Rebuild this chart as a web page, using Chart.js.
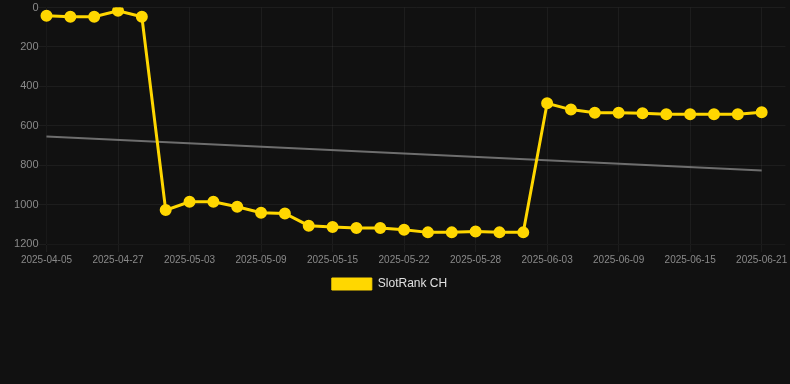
<!DOCTYPE html>
<html>
<head>
<meta charset="utf-8">
<script src="https://cdn.jsdelivr.net/npm/chart.js@4.4.0/dist/chart.umd.min.js"></script>
<style>
  html, body { margin: 0; padding: 0; background: #111111; overflow: hidden; }
  /* canvas is a bit wider than the window and nudged left, like the original page */
  #wrap { width: 807px; height: 300px; margin-left: -14px; }
</style>
</head>
<body>
<div id="wrap"><canvas id="chart-rank"></canvas></div>
<script>
  const GOLD  = '#FFD700';
  const MUTED = '#8A8A8A';
  const GRID  = 'rgba(255,255,255,0.05)';

  // dates (category axis); trailing slot has no data
  const dates = [
    '2025-04-05', '2025-04-12', '2025-04-19', '2025-04-27', '2025-04-29',
    '2025-05-01', '2025-05-03', '2025-05-05', '2025-05-07', '2025-05-09',
    '2025-05-11', '2025-05-13', '2025-05-15', '2025-05-17', '2025-05-20',
    '2025-05-22', '2025-05-24', '2025-05-26', '2025-05-28', '2025-05-30',
    '2025-06-01', '2025-06-03', '2025-06-05', '2025-06-07', '2025-06-09',
    '2025-06-11', '2025-06-13', '2025-06-15', '2025-06-17', '2025-06-19',
    '2025-06-21', ''
  ];

  const rank = [
    42, 47, 47, 17, 47,
    1028, 986, 986, 1011, 1041,
    1045, 1107, 1114, 1119, 1119,
    1128, 1141, 1141, 1136, 1141,
    1141, 486, 518, 534, 534,
    537, 542, 542, 542, 542,
    532
  ];

  const trendStart = 655;
  const trendEnd   = 827;

  new Chart(document.getElementById('chart-rank'), {
    type: 'line',
    data: {
      labels: dates,
      datasets: [{
        label: 'SlotRank CH',
        data: rank,
        borderColor: GOLD,
        backgroundColor: GOLD,
        borderWidth: 3,
        pointRadius: 4.5,
        pointBackgroundColor: GOLD,
        pointBorderColor: GOLD,
        tension: 0,
      }, {
        label: 'trend',
        data: [
          { x: dates[0], y: trendStart },
          { x: dates[30], y: trendEnd },
        ],
        borderColor: 'rgba(150,150,150,0.7)',
        borderWidth: 2,
        pointRadius: 0,
        fill: false,
      }],
    },
    options: {
      responsive: true,
      maintainAspectRatio: false,
      animation: false,
      scales: {
        x: {
          grid: { color: GRID },
          ticks: { color: MUTED, font: { size: 10 }, padding: 2, maxRotation: 0, autoSkip: true },
        },
        y: {
          reverse: true,
          min: 0,
          max: 1200,
          grid: { color: GRID },
          afterFit: scale => { scale.width = 60.5; },
          ticks: {
            color: MUTED,
            font: { size: 11 },
            padding: 0,
            stepSize: 200,
            callback: v => String(v),
          },
        },
      },
      plugins: {
        legend: {
          position: 'bottom',
          labels: {
            color: '#E0E0E0',
            filter: item => item.text !== 'trend',
            generateLabels: chart =>
              Chart.defaults.plugins.legend.labels.generateLabels(chart)
                .map(l => ({ ...l, lineWidth: 1 })),
          },
        },
        tooltip: { enabled: false },
      },
    },
  });
</script>
</body>
</html>
